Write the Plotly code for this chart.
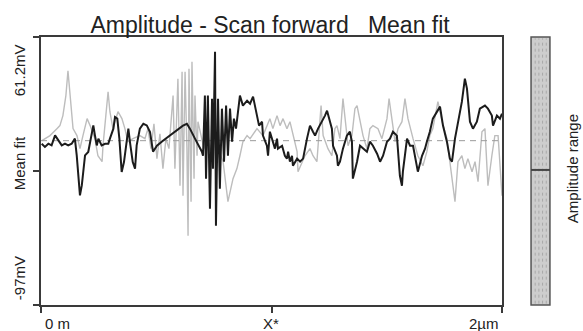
import plotly.graph_objects as go

# ---- data (x in µm, amplitude in mV) ----
black_x = [0.003, 0.017, 0.032, 0.046, 0.061, 0.075, 0.090, 0.104, 0.118, 0.133, 0.147, 0.155, 0.162, 0.169,
           0.177, 0.184, 0.191, 0.205, 0.220, 0.227, 0.234, 0.242, 0.249, 0.263, 0.278, 0.292, 0.299, 0.314,
           0.321, 0.331, 0.340, 0.350, 0.360, 0.372, 0.379, 0.386, 0.398, 0.408, 0.415, 0.429, 0.444, 0.459,
           0.473, 0.486, 0.503, 0.529, 0.560, 0.590, 0.616, 0.633, 0.646, 0.668, 0.681, 0.698, 0.703, 0.711,
           0.716, 0.724, 0.733, 0.742, 0.746, 0.755, 0.759, 0.768, 0.776, 0.785, 0.794, 0.803, 0.811, 0.820,
           0.829, 0.837, 0.846, 0.863, 0.876, 0.894, 0.907, 0.920, 0.937, 0.946, 0.959, 0.963, 0.980, 0.985,
           0.993, 1.002, 1.015, 1.024, 1.028, 1.046, 1.058, 1.067, 1.072, 1.080, 1.089, 1.093, 1.111, 1.124,
           1.137, 1.154, 1.167, 1.180, 1.189, 1.202, 1.219, 1.232, 1.241, 1.254, 1.262, 1.267, 1.284, 1.288,
           1.297, 1.310, 1.327, 1.340, 1.349, 1.353, 1.371, 1.384, 1.397, 1.414, 1.427, 1.440, 1.458, 1.471,
           1.484, 1.501, 1.514, 1.527, 1.544, 1.549, 1.557, 1.566, 1.570, 1.588, 1.601, 1.614, 1.631, 1.635,
           1.653, 1.666, 1.674, 1.687, 1.700, 1.718, 1.731, 1.744, 1.761, 1.774, 1.783, 1.796, 1.809, 1.826,
           1.839, 1.848, 1.861, 1.874, 1.891, 1.904, 1.926, 1.939, 1.956, 1.961, 1.978, 1.991, 2.000]
black_y = [-1.8, -3.7, -1.8, -2.8, 3.1, 0.2, -2.8, -1.8, -2.8, -1.8, 1.2, -8.7, -20.5, -32.3,
           -26.4, -16.5, -8.7, -6.7, 3.1, 9.0, 3.1, -2.8, 1.2, -2.8, -1.8, -1.8, 1.2, 7.1,
           14.0, 13.0, 1.2, -18.5, -12.6, 1.2, 7.1, -0.8, -12.6, -16.5, -2.8, 7.1, 10.0, 9.0,
           5.1, -6.5, -3.0, 0.0, 3.0, 5.9, 8.9, 10.0, 7.1, 1.2, -1.8, -6.5, -8.9, 26.6,
           -22.4, 26.6, -40.1, 24.8, -16.5, 52.5, -50.2, 24.8, -28.3, 18.9, -12.4, 20.7, -8.9, 18.9,
           -0.6, 13.0, 7.1, 26.6, 20.7, 23.6, 21.8, 26.0, 14.8, 8.9, 11.2, 3.0, -3.0, -8.9,
           5.3, 1.2, -4.7, 1.2, -4.7, -3.0, -8.9, -10.6, -6.5, -12.4, -8.9, -14.8, -10.6, -12.4,
           -10.6, 1.2, 8.9, 5.3, 3.0, 7.1, 11.2, 14.8, 17.7, 11.2, 7.1, -3.0, -8.9, -14.8,
           -12.4, -4.7, 3.0, 5.3, -0.6, -22.4, -12.4, -3.0, -4.7, -6.5, -0.6, -3.0, -7.7, -12.4,
           -8.9, -0.6, 1.2, 5.3, 3.0, -4.7, -20.7, -26.6, -18.3, 1.2, -3.0, -3.0, -16.5, -18.3,
           -8.9, -4.7, -0.6, 5.3, 13.0, 17.1, 20.1, 8.9, -0.6, -10.6, -12.4, 1.2, 11.2, 23.0,
           36.6, 30.7, 11.2, 7.1, 11.2, 18.9, 20.7, 18.9, 14.8, 8.9, 14.8, 13.0, 15.9]

gray_x = [0.004, 0.039, 0.069, 0.082, 0.095, 0.108, 0.117, 0.126, 0.134, 0.139, 0.156, 0.169, 0.182, 0.200,
          0.213, 0.234, 0.247, 0.265, 0.269, 0.282, 0.291, 0.299, 0.312, 0.334, 0.351, 0.364, 0.377, 0.399,
          0.429, 0.451, 0.464, 0.477, 0.490, 0.503, 0.516, 0.529, 0.542, 0.555, 0.573, 0.581, 0.594, 0.603,
          0.612, 0.616, 0.625, 0.633, 0.638, 0.642, 0.651, 0.655, 0.664, 0.668, 0.677, 0.681, 0.694, 0.707,
          0.720, 0.737, 0.750, 0.768, 0.790, 0.811, 0.833, 0.850, 0.863, 0.876, 0.894, 0.907, 0.937, 0.963,
          0.993, 1.006, 1.024, 1.037, 1.050, 1.067, 1.080, 1.093, 1.111, 1.115, 1.132, 1.145, 1.167, 1.180,
          1.197, 1.202, 1.215, 1.224, 1.245, 1.262, 1.275, 1.284, 1.297, 1.310, 1.319, 1.332, 1.349, 1.362,
          1.371, 1.384, 1.397, 1.414, 1.427, 1.440, 1.462, 1.479, 1.501, 1.510, 1.523, 1.536, 1.549, 1.566,
          1.579, 1.592, 1.614, 1.635, 1.657, 1.674, 1.687, 1.700, 1.722, 1.740, 1.761, 1.787, 1.796, 1.809,
          1.826, 1.839, 1.852, 1.870, 1.883, 1.896, 1.913, 1.926, 1.939, 1.956, 1.969, 1.983, 2.000]
gray_y = [0.0, 3.0, 7.1, 8.9, 14.8, 26.6, 41.3, 26.6, 14.8, 7.1, 3.0, -4.7, 3.0, 13.0,
          8.9, 1.2, -8.9, -12.4, -3.0, 14.8, 28.9, 17.1, 7.1, 17.1, 13.0, 7.1, -0.6, 1.2,
          3.0, 1.2, 7.1, -4.7, 10.0, -10.6, 4.1, -16.5, 1.2, -4.7, 26.6, -16.5, 36.6, -26.6,
          40.7, -32.5, 40.7, -4.7, -56.1, 42.5, -36.0, 46.6, -22.4, 26.6, -8.9, 11.2, 4.1, -4.7,
          7.1, -7.7, 4.1, -4.7, -12.4, -36.0, -22.4, -16.5, -8.9, -0.6, 3.0, 1.2, 7.1, 3.0,
          13.0, 7.1, 14.8, 8.9, 13.0, 7.1, 11.2, 3.0, -6.5, -18.3, -12.4, -8.9, -4.7, -8.9,
          -12.4, -3.0, 20.7, 3.0, -4.7, -8.9, 7.1, 8.9, 1.2, 24.8, 13.0, -3.0, 3.0, 18.9,
          20.7, 11.2, 3.0, -4.7, 7.1, 8.9, 7.1, 1.2, 13.0, 24.8, 11.2, -0.6, 7.1, 11.2,
          24.8, 13.0, 1.2, -8.9, -14.8, -6.5, 3.0, 7.1, 23.0, 11.2, 1.2, -26.6, -36.0, -12.4,
          -8.9, -16.5, -10.6, -18.3, -12.4, -24.2, 5.3, 7.1, -26.6, -8.9, 3.0, 3.0, -32.5]

mean_level = 0.0
y_range = [-97.0, 61.2]
x_range = [0.0, 2.0]
y_ticks = [-97.0, -17.7, 61.2]
x_ticks = [0.0, 1.0, 2.0]
x_labels = ["0 m", "X*", "2µm"]
y_labels = ["61.2mV", "Mean fit", "-97mV"]
title_text = "Amplitude - Scan forward&nbsp;&nbsp;&nbsp;Mean fit"

FONT = "Arial, 'Liberation Sans', sans-serif"
AX = "#3a3a3a"

fig = go.Figure()
fig.add_trace(go.Scatter(x=gray_x, y=gray_y, mode="lines",
                         line=dict(color="#bdbdbd", width=1.4), hoverinfo="skip"))
fig.add_trace(go.Scatter(x=x_range, y=[mean_level, mean_level], mode="lines",
                         line=dict(color="#9a9a9a", width=1, dash="6px,5px"), hoverinfo="skip"))
fig.add_trace(go.Scatter(x=black_x, y=black_y, mode="lines",
                         line=dict(color="#1c1c1c", width=2), hoverinfo="skip"))

fig.update_layout(
    width=583, height=331,
    margin=dict(l=41, r=81, t=37, b=26),
    paper_bgcolor="white", plot_bgcolor="white",
    showlegend=False,
    font=dict(family=FONT, color="#222"),
    title=dict(text=title_text, x=0.497, xref="paper", xanchor="center",
               y=0.925, yref="container", yanchor="middle",
               font=dict(size=23, color="#222", family=FONT)),
)
fig.update_xaxes(range=x_range, showgrid=False, zeroline=False,
                 showline=True, linecolor=AX, linewidth=2, mirror=True,
                 ticks="outside", ticklen=6, tickwidth=2, tickcolor=AX,
                 tickvals=x_ticks, ticktext=["", "", ""])
fig.update_yaxes(range=y_range, showgrid=False, zeroline=False,
                 showline=True, linecolor=AX, linewidth=2, mirror=True,
                 ticks="outside", ticklen=6, tickwidth=2, tickcolor=AX,
                 tickvals=y_ticks, ticktext=["", "", ""])

# tick label annotations
for txt, yp in zip(y_labels, [0.877, 0.530, 0.101]):
    fig.add_annotation(text=txt, xref="paper", yref="paper", x=-0.045, y=yp,
                       textangle=-90, showarrow=False, xanchor="center", yanchor="middle",
                       font=dict(size=15, color="#222", family=FONT))
for txt, xp, anc in zip(x_labels, [0.004, 0.499, 0.996], ["left", "center", "right"]):
    fig.add_annotation(text=txt, xref="paper", yref="paper", x=xp, y=-0.068,
                       showarrow=False, xanchor=anc, yanchor="middle",
                       font=dict(size=15, color="#222", family=FONT))

# colour-range bar at the right
x0, x1 = 1.063, 1.104
fig.add_shape(type="rect", xref="paper", yref="paper", x0=x0, x1=x1, y0=0.0, y1=1.0,
              fillcolor="#cdcdcd", line=dict(color="#555", width=1.5))
for xp in [1.072, 1.080, 1.088, 1.096]:
    fig.add_shape(type="line", xref="paper", yref="paper", x0=xp, x1=xp, y0=0.005, y1=0.995,
                  line=dict(color="#a8a8a8", width=1, dash="dot"))
fig.add_shape(type="line", xref="paper", yref="paper", x0=x0, x1=x1, y0=0.504, y1=0.504,
              line=dict(color="#444", width=2))
fig.add_annotation(text="Amplitude range", xref="paper", yref="paper", x=1.152, y=0.507,
                   textangle=-90, showarrow=False, xanchor="center", yanchor="middle",
                   font=dict(size=15, color="#222", family=FONT))

fig.write_html("out.html", config={"displayModeBar": False},
               post_script="document.body.style.margin='0px';document.body.style.overflow='hidden';")
